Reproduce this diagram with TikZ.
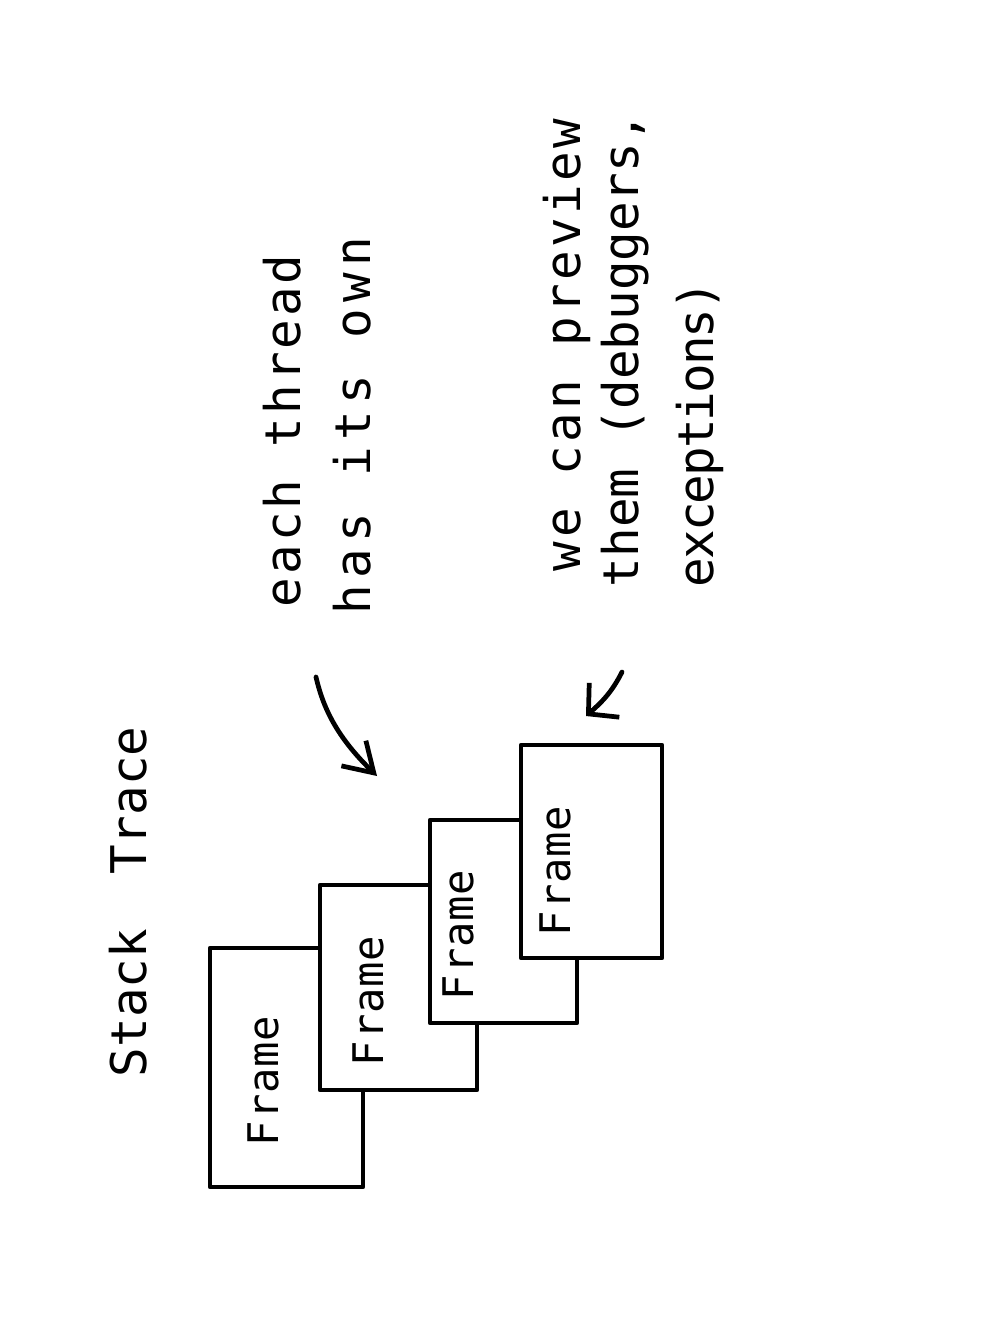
\documentclass[tikz,border=0pt]{standalone}
\usepackage{fontspec}
\newfontfamily\hand{DejaVu Sans Mono}
\usetikzlibrary{arrows.meta}
\newcommand\lsp[1]{\addfontfeature{LetterSpace=#1}}
\begin{document}
\begin{tikzpicture}[x=0.02cm,y=-0.02cm,
  line width=2.7pt, line cap=round, line join=round,
  handtext/.style={rotate=90, anchor=base west, inner sep=0pt, outer sep=0pt,
    font=\hand\fontsize{28}{28}\selectfont},
  framelabel/.style={handtext, font=\hand\fontsize{24}{24}\selectfont\lsp{2}},
  framebox/.style={draw, fill=white, inner sep=0pt, outer sep=0pt, anchor=north west},
  arr/.style={-{Straight Barb[length=16pt,width=20pt]}}]
\useasboundingbox (0,0) rectangle (991,1322);

% title
\node[handtext] (title) at (146,1077) {Stack\hspace{14pt} Trace};

% frames
\node[framebox, minimum width=3.06cm, minimum height=4.78cm] (f1) at (210,948) {};
\node[framelabel] (t1) at (278,1146) {Frame};
\node[framebox, minimum width=3.14cm, minimum height=4.1cm] (f2) at (320,885) {};
\node[framelabel] (t2) at (383,1066) {Frame};
\node[framebox, minimum width=2.94cm, minimum height=4.06cm] (f3) at (430,820) {};
\node[framelabel] (t3) at (473,1000) {Frame};
\node[framebox, minimum width=2.82cm, minimum height=4.26cm] (f4) at (521,745) {};
\node[framelabel] (t4) at (570,936) {Frame};

% notes
\node[handtext, font=\hand\fontsize{28}{28}\selectfont\lsp{6}] (n1) at (300,607) {each thread};
\node[handtext, font=\hand\fontsize{28}{28}\selectfont\lsp{13}] (n2) at (370,614) {has its own};
\node[handtext, font=\hand\fontsize{28}{28}\selectfont\lsp{7}] (n3) at (580,571) {we can preview};
\node[handtext] (n4) at (638,587) {them (debuggers,};
\node[handtext, font=\hand\fontsize{28}{28}\selectfont\lsp{-4}] (n5) at (713,587) {exceptions)};

% arrows
\coordinate (a1s) at (316,677);
\coordinate (a1t) at (377,776);
\draw[arr] (a1s) .. controls (324,712) and (340,740) .. (a1t);
\coordinate (a2s) at (622,672);
\coordinate (a2t) at (586,716);
\draw[-{Straight Barb[length=12pt,width=26pt]}] (a2s) .. controls (612,692) and (602,702) .. (a2t);
\end{tikzpicture}
\end{document}
